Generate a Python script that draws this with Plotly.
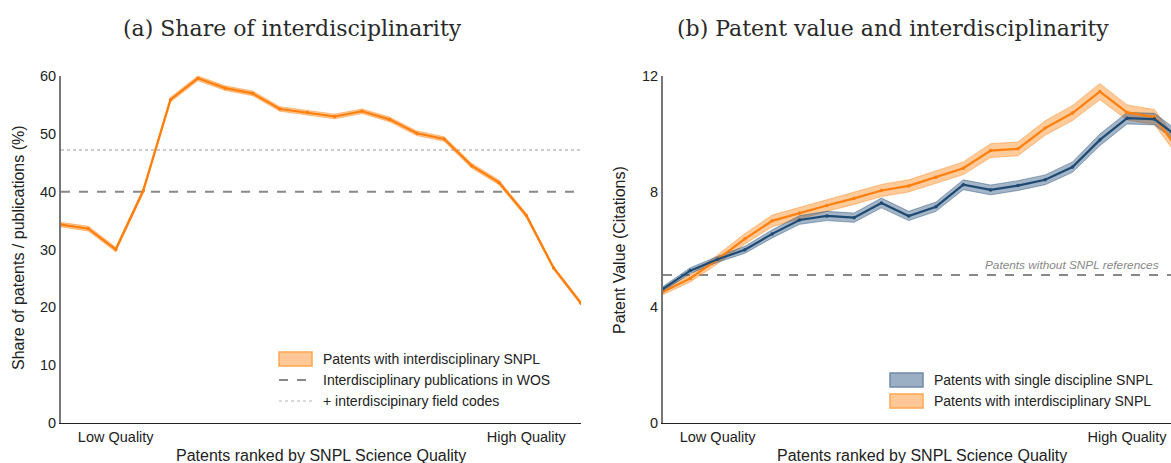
import plotly.graph_objects as go

W, H = 1171, 463

# ---------------- data ----------------
quality_rank = list(range(1, 21))
quality_tickvals = [3, 18]
quality_ticktext = ["Low Quality", "High Quality"]

# (a) share of patents with interdisciplinary SNPL (%)
share_interdisc = [34.3, 33.6, 30.0, 40.1, 55.9, 59.6, 57.9, 57.0, 54.3, 53.7,
                   53.0, 53.9, 52.5, 50.1, 49.1, 44.5, 41.6, 35.9, 26.8, 20.7]
share_ci = [0.4, 0.4, 0.4, 0.4, 0.4, 0.4, 0.4, 0.4, 0.4, 0.4,
            0.4, 0.4, 0.4, 0.4, 0.4, 0.4, 0.4, 0.35, 0.3, 0.3]
wos_interdisc_share = 40.0
wos_plus_fieldcodes_share = 47.2

# (b) patent value (citations)
value_single = [4.64, 5.27, 5.66, 5.99, 6.54, 7.02, 7.16, 7.10, 7.61, 7.16,
                7.48, 8.24, 8.06, 8.21, 8.41, 8.85, 9.79, 10.54, 10.51, 9.8]
value_single_ci = [0.08, 0.1, 0.1, 0.12, 0.14, 0.15, 0.16, 0.16, 0.17, 0.16,
                   0.16, 0.17, 0.17, 0.17, 0.17, 0.18, 0.2, 0.2, 0.2, 0.2]
value_inter = [4.54, 5.0, 5.66, 6.37, 6.99, 7.26, 7.52, 7.77, 8.04, 8.20,
               8.50, 8.81, 9.42, 9.48, 10.20, 10.72, 11.46, 10.74, 10.58, 9.3]
value_inter_ci = [0.1, 0.12, 0.15, 0.18, 0.2, 0.2, 0.2, 0.21, 0.21, 0.21,
                  0.22, 0.22, 0.24, 0.24, 0.25, 0.26, 0.28, 0.26, 0.26, 0.26]
value_no_snpl = 5.12

legend_a = ["Patents with interdisciplinary SNPL",
            "Interdisciplinary publications in WOS",
            "+ interdiscipinary field codes"]
legend_b = ["Patents with single discipline SNPL",
            "Patents with interdisciplinary SNPL"]

# ---------------- styles ----------------
ORANGE = "#ff7f0e"
ORANGE_BAND = "rgba(255,140,30,0.45)"
ORANGE_EDGE = "rgba(255,127,14,0.55)"
BLUE = "#1f4a73"
BLUE_BAND = "rgba(50,90,130,0.45)"
BLUE_EDGE = "rgba(31,74,115,0.55)"
GRAY = "#888888"
TXT = "#222222"
SANS = "Liberation Sans, Arial, sans-serif"
SERIF = "DejaVu Serif, serif"


def px_x(p):
    return p / W


def px_y(p):
    return 1 - p / H


fig = go.Figure()


def band(xs, ys, ci, xaxis, yaxis, fill, edge):
    up = [y + c for y, c in zip(ys, ci)]
    lo = [y - c for y, c in zip(ys, ci)]
    fig.add_trace(go.Scatter(
        x=xs + xs[::-1], y=up + lo[::-1], fill="toself", fillcolor=fill,
        line=dict(color=edge, width=0.8), mode="lines", showlegend=False,
        hoverinfo="skip", xaxis=xaxis, yaxis=yaxis))


def line(xs, ys, color, xaxis, yaxis):
    fig.add_trace(go.Scatter(
        x=xs, y=ys, mode="lines+markers", line=dict(color=color, width=2.2),
        marker=dict(size=3.5, color=color), showlegend=False,
        xaxis=xaxis, yaxis=yaxis))


# ----- panel (a) -----
fig.add_trace(go.Scatter(
    x=[quality_rank[0], quality_rank[-1]], y=[wos_plus_fieldcodes_share] * 2,
    mode="lines", line=dict(color="#bbbbbb", width=1.5, dash="dot"),
    showlegend=False, xaxis="x", yaxis="y"))
fig.add_trace(go.Scatter(
    x=[quality_rank[0], quality_rank[-1]], y=[wos_interdisc_share] * 2,
    mode="lines", line=dict(color=GRAY, width=2, dash="dash"),
    showlegend=False, xaxis="x", yaxis="y"))
band(quality_rank, share_interdisc, share_ci, "x", "y", ORANGE_BAND, ORANGE_EDGE)
line(quality_rank, share_interdisc, ORANGE, "x", "y")

# ----- panel (b) -----
fig.add_trace(go.Scatter(
    x=[quality_rank[0], quality_rank[-1]], y=[value_no_snpl] * 2,
    mode="lines", line=dict(color=GRAY, width=2, dash="dash"),
    showlegend=False, xaxis="x2", yaxis="y2"))
band(quality_rank, value_inter, value_inter_ci, "x2", "y2", ORANGE_BAND, ORANGE_EDGE)
band(quality_rank, value_single, value_single_ci, "x2", "y2", BLUE_BAND, BLUE_EDGE)
line(quality_rank, value_inter, ORANGE, "x2", "y2")
line(quality_rank, value_single, BLUE, "x2", "y2")

# ----- manual legends -----
shapes = []
annotations = []


def legend_text(text, x, y):
    annotations.append(dict(text=text, x=px_x(x), y=px_y(y), xref="paper", yref="paper",
                            xanchor="left", yanchor="middle", showarrow=False,
                            font=dict(family=SANS, size=14, color=TXT)))


def legend_rect(x0, y0, x1, y1, fill, edge):
    shapes.append(dict(type="rect", xref="paper", yref="paper",
                       x0=px_x(x0), x1=px_x(x1), y0=px_y(y0), y1=px_y(y1),
                       fillcolor=fill, line=dict(color=edge, width=1.5)))


def legend_line(x0, x1, y, color, width, dash):
    shapes.append(dict(type="line", xref="paper", yref="paper",
                       x0=px_x(x0), x1=px_x(x1), y0=px_y(y), y1=px_y(y),
                       line=dict(color=color, width=width, dash=dash)))


legend_rect(279, 352, 312, 366, "#ffc896", "#ffa650")
legend_text(legend_a[0], 321, 359)
legend_line(279, 313, 380, GRAY, 2, "dash")
legend_text(legend_a[1], 321, 380)
legend_line(279, 313, 401, "#cccccc", 1.5, "dot")
legend_text(legend_a[2], 321, 401)

legend_rect(890, 373, 923, 387, "#9aafc3", "#6f8aa6")
legend_text(legend_b[0], 932, 380)
legend_rect(890, 394, 923, 408, "#ffc896", "#ffa650")
legend_text(legend_b[1], 932, 401)


def label(text, x, y, size, family=SANS, angle=0, color=TXT, xanchor="center"):
    annotations.append(dict(text=text, x=px_x(x), y=px_y(y), xref="paper", yref="paper",
                            xanchor=xanchor, yanchor="middle", showarrow=False,
                            textangle=angle, font=dict(family=family, size=size, color=color)))


label("(a) Share of interdisciplinarity", 292, 28, 22, family=SERIF, color="#2a2a2a")
label("(b) Patent value and interdisciplinarity", 893, 28, 22, family=SERIF, color="#2a2a2a")
label("Patents ranked by SNPL Science Quality", 321, 455, 16)
label("Patents ranked by SNPL Science Quality", 922, 455, 16)
label("Share of patents / publications (%)", 18, 248, 16, angle=-90)
label("Patent Value (Citations)", 620, 250, 16, angle=-90)
label("<i>Patents without SNPL references</i>", 1161, 265, 11.8, color="#888888",
      xanchor="right")

xa_common = dict(tickmode="array", tickvals=quality_tickvals, ticktext=quality_ticktext,
                 showgrid=False, zeroline=False, showline=True, linecolor="#222222",
                 linewidth=1.3, ticks="", automargin=False,
                 tickfont=dict(family=SANS, size=14.5, color=TXT))
ya_common = dict(showgrid=False, zeroline=False, showline=True, linecolor="#777777",
                 linewidth=2, ticks="", automargin=False,
                 tickfont=dict(family=SANS, size=14.5, color=TXT))

fig.update_layout(
    width=W, height=H, autosize=False,
    margin=dict(l=0, r=0, t=0, b=0, pad=0),
    paper_bgcolor="white", plot_bgcolor="white",
    showlegend=False,
    xaxis=dict(domain=[px_x(61), px_x(581)], range=[1, 20], anchor="y", **xa_common),
    yaxis=dict(domain=[px_y(423), px_y(76)], range=[0, 60], anchor="x",
               tickvals=[0, 10, 20, 30, 40, 50, 60], **ya_common),
    xaxis2=dict(domain=[px_x(663), 1.0], range=[1, 1 + (1171 - 663) / 27.3],
                anchor="y2", **xa_common),
    yaxis2=dict(domain=[px_y(423), px_y(76)], range=[0, 12], anchor="x2",
                tickvals=[0, 4, 8, 12], **ya_common),
    shapes=shapes,
    annotations=annotations,
)

fig.write_html("out.html",
               config={"displayModeBar": False},
               post_script="document.body.style.margin='0';"
                           "document.body.style.overflow='hidden';")
